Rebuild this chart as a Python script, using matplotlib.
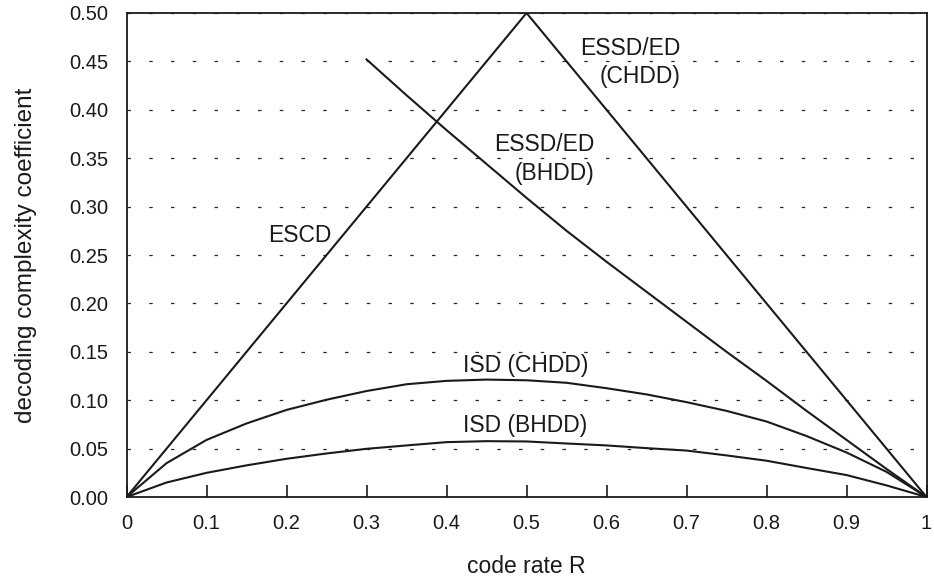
import matplotlib
matplotlib.use("Agg")
import matplotlib.pyplot as plt
import numpy as np

plt.rcParams['font.family'] = ['Liberation Sans', 'DejaVu Sans']

# Data
escd_R = [0.0, 0.5, 1.0]
escd_v = [0.0, 0.5, 0.0]

essd_bhdd_R = [0.3, 0.35, 0.4, 0.45, 0.5, 0.55, 0.6, 0.65, 0.7, 0.75, 0.8, 0.85, 0.9, 0.95, 1.0]
essd_bhdd_v = [0.452, 0.415, 0.379, 0.344, 0.309, 0.275, 0.243, 0.212, 0.181, 0.150,
               0.120, 0.089, 0.059, 0.029, 0.0]

isd_R = [0.0, 0.05, 0.1, 0.15, 0.2, 0.25, 0.3, 0.35, 0.4, 0.45, 0.5, 0.55,
         0.6, 0.65, 0.7, 0.75, 0.8, 0.85, 0.9, 0.95, 1.0]
isd_chdd = [0.0, 0.035, 0.059, 0.076, 0.090, 0.1005, 0.1095, 0.1165, 0.120, 0.1213,
            0.1206, 0.118, 0.1124, 0.106, 0.098, 0.089, 0.078, 0.063, 0.046, 0.026, 0.0]
isd_bhdd = [0.0, 0.015, 0.025, 0.0327, 0.0395, 0.045, 0.0498, 0.0533, 0.0567, 0.0577,
            0.0574, 0.0553, 0.0533, 0.0505, 0.048, 0.043, 0.0375, 0.030, 0.0227, 0.012, 0.0]

xticks = [0, 0.1, 0.2, 0.3, 0.4, 0.5, 0.6, 0.7, 0.8, 0.9, 1.0]
xtick_labels = ['0', '0.1', '0.2', '0.3', '0.4', '0.5', '0.6', '0.7', '0.8', '0.9', '1']
yticks = [0.0, 0.05, 0.10, 0.15, 0.20, 0.25, 0.30, 0.35, 0.40, 0.45, 0.50]
ytick_labels = ['%.2f' % v for v in yticks]

fig = plt.figure(figsize=(9.34, 5.77), dpi=100)
ax = fig.add_axes([0.1355, 0.1386, 0.8565, 0.8389])

lc = '#1a1a1a'
lw = 1.5
ax.plot(escd_R, escd_v, color=lc, lw=lw)
ax.plot(essd_bhdd_R, essd_bhdd_v, color=lc, lw=lw)
ax.plot(isd_R, isd_chdd, color=lc, lw=lw)
ax.plot(isd_R, isd_bhdd, color=lc, lw=lw)

ax.set_xlim(0, 1)
ax.set_ylim(0, 0.5)
ax.set_xticks(xticks)
ax.set_xticklabels(xtick_labels)
ax.set_yticks(yticks)
ax.set_yticklabels(ytick_labels)
ax.tick_params(axis='x', direction='in', length=8.5, width=1.2, pad=12, labelsize=14.5, colors=lc)
ax.tick_params(axis='y', length=0, pad=13, labelsize=14.5, colors=lc)

ax.yaxis.grid(True, linestyle=(0, (2.8, 14.6)), color='#2a2a2a', lw=0.9)
ax.set_axisbelow(True)
for s in ax.spines.values():
    s.set_color(lc)
    s.set_linewidth(1.3)

ax.set_xlabel('code rate R', fontsize=16.5, labelpad=16, color=lc)
ax.set_ylabel('decoding complexity coefficient', fontsize=17.5, color=lc)
ax.yaxis.set_label_coords(-0.112, 0.5)

fs = 16.5
ax.text(0.217, 0.27, 'ESCD', fontsize=fs, ha='center', va='center', color=lc)
ax.text(0.692, 0.449, 'ESSD/ED\n(CHDD)', fontsize=fs, ha='right', va='center',
        color=lc, multialignment='right', linespacing=1.3)
ax.text(0.585, 0.349, 'ESSD/ED\n(BHDD)', fontsize=fs, ha='right', va='center',
        color=lc, multialignment='right', linespacing=1.3)
ax.text(0.4985, 0.136, 'ISD (CHDD)', fontsize=fs, ha='center', va='center', color=lc)
ax.text(0.4985, 0.074, 'ISD (BHDD)', fontsize=fs, ha='center', va='center', color=lc)

fig.savefig('out.png', dpi=100)
